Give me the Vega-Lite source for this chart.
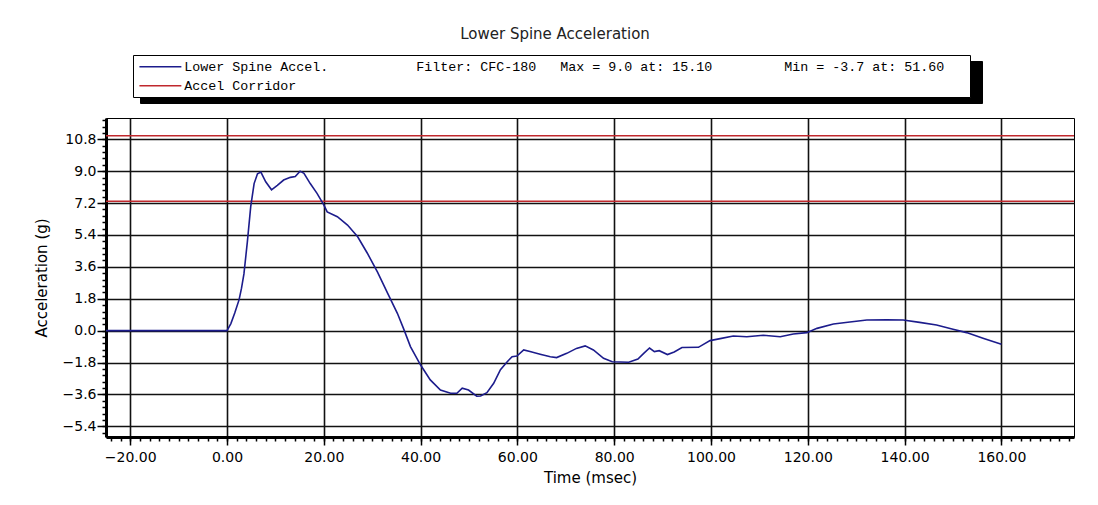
{
  "$schema": "https://vega.github.io/schema/vega-lite/v6.json",
  "autosize": {"type": "none"},
  "padding": {"left": 106, "top": 118, "right": 24, "bottom": 68},
  "width": 968,
  "height": 319,
  "background": "white",
  "config": {
    "view": {"stroke": "black", "strokeWidth": 1},
    "axis": {"labelFont": "DejaVu Sans", "titleFont": "DejaVu Sans", "labelColor": "black", "titleColor": "black", "titleFontWeight": "normal"}
  },
  "title": {
    "text": "Lower Spine Acceleration",
    "anchor": "middle",
    "frame": "group",
    "dx": -35,
    "offset": 13,
    "font": "DejaVu Sans",
    "fontSize": 15,
    "fontWeight": "normal",
    "color": "#222222"
  },
  "datasets": {
    "accel": [
      {"series": "Lower Spine Accel.", "t": -25, "v": 0},
      {"series": "Lower Spine Accel.", "t": 0, "v": 0},
      {"series": "Lower Spine Accel.", "t": 0.8, "v": 0.4},
      {"series": "Lower Spine Accel.", "t": 1.6, "v": 1.0},
      {"series": "Lower Spine Accel.", "t": 2.5, "v": 1.75},
      {"series": "Lower Spine Accel.", "t": 3.0, "v": 2.4},
      {"series": "Lower Spine Accel.", "t": 3.5, "v": 3.2},
      {"series": "Lower Spine Accel.", "t": 4.2, "v": 5.0},
      {"series": "Lower Spine Accel.", "t": 4.9, "v": 7.0},
      {"series": "Lower Spine Accel.", "t": 5.6, "v": 8.3},
      {"series": "Lower Spine Accel.", "t": 6.3, "v": 8.85},
      {"series": "Lower Spine Accel.", "t": 7.0, "v": 8.95},
      {"series": "Lower Spine Accel.", "t": 8.0, "v": 8.4},
      {"series": "Lower Spine Accel.", "t": 9.2, "v": 7.95},
      {"series": "Lower Spine Accel.", "t": 10.4, "v": 8.2},
      {"series": "Lower Spine Accel.", "t": 11.7, "v": 8.5},
      {"series": "Lower Spine Accel.", "t": 13.1, "v": 8.65},
      {"series": "Lower Spine Accel.", "t": 14.1, "v": 8.7},
      {"series": "Lower Spine Accel.", "t": 15.1, "v": 9.0},
      {"series": "Lower Spine Accel.", "t": 15.9, "v": 8.88},
      {"series": "Lower Spine Accel.", "t": 17.2, "v": 8.3},
      {"series": "Lower Spine Accel.", "t": 18.6, "v": 7.75},
      {"series": "Lower Spine Accel.", "t": 20.0, "v": 7.1},
      {"series": "Lower Spine Accel.", "t": 20.7, "v": 6.7},
      {"series": "Lower Spine Accel.", "t": 22.8, "v": 6.43},
      {"series": "Lower Spine Accel.", "t": 24.9, "v": 5.96},
      {"series": "Lower Spine Accel.", "t": 27.0, "v": 5.3},
      {"series": "Lower Spine Accel.", "t": 29.0, "v": 4.37},
      {"series": "Lower Spine Accel.", "t": 31.1, "v": 3.3},
      {"series": "Lower Spine Accel.", "t": 33.2, "v": 2.1},
      {"series": "Lower Spine Accel.", "t": 35.2, "v": 0.98},
      {"series": "Lower Spine Accel.", "t": 36.5, "v": 0.1},
      {"series": "Lower Spine Accel.", "t": 37.9, "v": -0.9},
      {"series": "Lower Spine Accel.", "t": 40.0, "v": -1.94},
      {"series": "Lower Spine Accel.", "t": 42.0, "v": -2.78},
      {"series": "Lower Spine Accel.", "t": 44.1, "v": -3.35},
      {"series": "Lower Spine Accel.", "t": 46.2, "v": -3.53},
      {"series": "Lower Spine Accel.", "t": 47.5, "v": -3.53},
      {"series": "Lower Spine Accel.", "t": 48.6, "v": -3.25},
      {"series": "Lower Spine Accel.", "t": 49.9, "v": -3.35},
      {"series": "Lower Spine Accel.", "t": 51.6, "v": -3.7},
      {"series": "Lower Spine Accel.", "t": 52.4, "v": -3.69},
      {"series": "Lower Spine Accel.", "t": 53.7, "v": -3.5},
      {"series": "Lower Spine Accel.", "t": 55.1, "v": -2.97},
      {"series": "Lower Spine Accel.", "t": 56.5, "v": -2.2},
      {"series": "Lower Spine Accel.", "t": 57.9, "v": -1.75},
      {"series": "Lower Spine Accel.", "t": 58.9, "v": -1.47},
      {"series": "Lower Spine Accel.", "t": 59.9, "v": -1.43},
      {"series": "Lower Spine Accel.", "t": 61.3, "v": -1.09},
      {"series": "Lower Spine Accel.", "t": 62.6, "v": -1.18},
      {"series": "Lower Spine Accel.", "t": 64.7, "v": -1.33},
      {"series": "Lower Spine Accel.", "t": 66.8, "v": -1.47},
      {"series": "Lower Spine Accel.", "t": 68.1, "v": -1.52},
      {"series": "Lower Spine Accel.", "t": 70.2, "v": -1.28},
      {"series": "Lower Spine Accel.", "t": 72.2, "v": -1.0},
      {"series": "Lower Spine Accel.", "t": 74.0, "v": -0.86},
      {"series": "Lower Spine Accel.", "t": 75.7, "v": -1.09},
      {"series": "Lower Spine Accel.", "t": 77.8, "v": -1.56},
      {"series": "Lower Spine Accel.", "t": 79.6, "v": -1.75},
      {"series": "Lower Spine Accel.", "t": 83.0, "v": -1.78},
      {"series": "Lower Spine Accel.", "t": 84.9, "v": -1.6},
      {"series": "Lower Spine Accel.", "t": 86.1, "v": -1.28},
      {"series": "Lower Spine Accel.", "t": 87.3, "v": -0.98},
      {"series": "Lower Spine Accel.", "t": 88.3, "v": -1.18},
      {"series": "Lower Spine Accel.", "t": 89.3, "v": -1.13},
      {"series": "Lower Spine Accel.", "t": 91.0, "v": -1.35},
      {"series": "Lower Spine Accel.", "t": 92.4, "v": -1.2},
      {"series": "Lower Spine Accel.", "t": 94.0, "v": -0.95},
      {"series": "Lower Spine Accel.", "t": 97.4, "v": -0.94},
      {"series": "Lower Spine Accel.", "t": 99.8, "v": -0.56},
      {"series": "Lower Spine Accel.", "t": 101.9, "v": -0.45},
      {"series": "Lower Spine Accel.", "t": 104.6, "v": -0.3},
      {"series": "Lower Spine Accel.", "t": 107.4, "v": -0.34},
      {"series": "Lower Spine Accel.", "t": 110.8, "v": -0.26},
      {"series": "Lower Spine Accel.", "t": 114.3, "v": -0.34},
      {"series": "Lower Spine Accel.", "t": 117.0, "v": -0.19},
      {"series": "Lower Spine Accel.", "t": 119.8, "v": -0.11},
      {"series": "Lower Spine Accel.", "t": 121.9, "v": 0.13},
      {"series": "Lower Spine Accel.", "t": 125.3, "v": 0.38},
      {"series": "Lower Spine Accel.", "t": 128.7, "v": 0.49},
      {"series": "Lower Spine Accel.", "t": 132.2, "v": 0.6},
      {"series": "Lower Spine Accel.", "t": 136.3, "v": 0.62},
      {"series": "Lower Spine Accel.", "t": 139.7, "v": 0.6},
      {"series": "Lower Spine Accel.", "t": 143.1, "v": 0.47},
      {"series": "Lower Spine Accel.", "t": 146.6, "v": 0.32},
      {"series": "Lower Spine Accel.", "t": 150.0, "v": 0.08},
      {"series": "Lower Spine Accel.", "t": 152.8, "v": -0.11},
      {"series": "Lower Spine Accel.", "t": 156.2, "v": -0.43},
      {"series": "Lower Spine Accel.", "t": 160.0, "v": -0.77}
    ],
    "corridor": [
      {"series": "Accel Corridor", "level": "upper", "t": -25, "v": 11.0},
      {"series": "Accel Corridor", "level": "upper", "t": 175, "v": 11.0},
      {"series": "Accel Corridor", "level": "lower", "t": -25, "v": 7.3},
      {"series": "Accel Corridor", "level": "lower", "t": 175, "v": 7.3}
    ]
  },
  "resolve": {"axis": {"x": "independent", "y": "independent"}},
  "layer": [
    {
      "data": {"name": "corridor"},
      "mark": {"type": "line", "strokeWidth": 1.6},
      "encoding": {
        "x": {
          "field": "t", "type": "quantitative",
          "scale": {"domain": [-25, 175], "nice": false, "zero": false},
          "axis": {
            "orient": "bottom", "title": null, "labels": false, "grid": false, "domain": false,
            "tickColor": "black", "tickWidth": 1.5, "tickSize": 4,
            "values": [-24,-22,-20,-18,-16,-14,-12,-10,-8,-6,-4,-2,0,2,4,6,8,10,12,14,16,18,20,22,24,26,28,30,32,34,36,38,40,42,44,46,48,50,52,54,56,58,60,62,64,66,68,70,72,74,76,78,80,82,84,86,88,90,92,94,96,98,100,102,104,106,108,110,112,114,116,118,120,122,124,126,128,130,132,134,136,138,140,142,144,146,148,150,152,154,156,158,160,162,164,166,168,170,172,174]
          }
        },
        "y": {
          "field": "v", "type": "quantitative",
          "scale": {"domain": [-6, 12], "nice": false, "zero": false},
          "axis": {
            "orient": "left", "title": null, "labels": false, "grid": false, "domain": false,
            "tickColor": "black", "tickWidth": 1.5, "tickSize": 4,
            "values": [-5.76,-5.4,-5.04,-4.68,-4.32,-3.96,-3.6,-3.24,-2.88,-2.52,-2.16,-1.8,-1.44,-1.08,-0.72,-0.36,0,0.36,0.72,1.08,1.44,1.8,2.16,2.52,2.88,3.24,3.6,3.96,4.32,4.68,5.04,5.4,5.76,6.12,6.48,6.84,7.2,7.56,7.92,8.28,8.64,9.0,9.36,9.72,10.08,10.44,10.8,11.16,11.52,11.88]
          }
        },
        "detail": {"field": "level"},
        "color": {
          "field": "series", "type": "nominal",
          "scale": {"domain": ["Lower Spine Accel.", "Accel Corridor"], "range": ["#1c1c8c", "#c0282d"]},
          "legend": {
            "orient": "none", "legendX": 27, "legendY": -63, "title": null, "zindex": 2,
            "symbolType": "M-1,0H7", "symbolSize": 110, "symbolStrokeWidth": 1.5,
            "labelFont": "Liberation Mono", "labelFontSize": 13.33, "labelColor": "black", "labelLimit": 1500, "labelOffset": 33,
            "padding": 5, "rowPadding": 5, "fillColor": "white", "strokeColor": "black",
            "labelExpr": "datum.label == 'Lower Spine Accel.' ? 'Lower Spine Accel.\u00a0\u00a0\u00a0\u00a0\u00a0\u00a0\u00a0\u00a0\u00a0\u00a0\u00a0Filter: CFC-180\u00a0\u00a0\u00a0Max = 9.0 at: 15.10\u00a0\u00a0\u00a0\u00a0\u00a0\u00a0\u00a0\u00a0\u00a0Min = -3.7 at: 51.60\u2800\u2800' : datum.label"
          }
        },
        "opacity": {
          "field": "series", "type": "ordinal",
          "scale": {"domain": ["Accel Corridor", "Lower Spine Accel."], "range": [1, 1]},
          "legend": {
            "orient": "none", "legendX": 34, "legendY": -57, "title": null, "zindex": 1,
            "symbolType": "M-1,0H7", "symbolSize": 110, "symbolStrokeWidth": 1.5, "symbolStrokeColor": "black", "symbolFillColor": "black",
            "labelFont": "Liberation Mono", "labelFontSize": 13.33, "labelColor": "black", "labelLimit": 1500, "labelOffset": 818,
            "padding": 5, "rowPadding": 5, "fillColor": "black", "strokeColor": "black",
            "labelExpr": "''"
          }
        }
      }
    },
    {
      "data": {"name": "accel"},
      "mark": {"type": "line", "strokeWidth": 1.6},
      "encoding": {
        "x": {
          "field": "t", "type": "quantitative",
          "scale": {"domain": [-25, 175], "nice": false, "zero": false},
          "axis": {
            "orient": "bottom", "title": "Time (msec)", "titleFontSize": 15, "titlePadding": 6,
            "values": [-20, 0, 20, 40, 60, 80, 100, 120, 140, 160], "format": ".2f",
            "grid": true, "gridColor": "#111111", "gridWidth": 1.6, "gridOpacity": 1,
            "domainColor": "black", "domainWidth": 3,
            "tickColor": "black", "tickWidth": 1.5, "tickSize": 8,
            "labelFontSize": 14, "labelPadding": 5
          }
        },
        "y": {
          "field": "v", "type": "quantitative",
          "scale": {"domain": [-6, 12], "nice": false, "zero": false},
          "axis": {
            "orient": "left", "title": "Acceleration (g)", "titleFontSize": 15, "titlePadding": 13,
            "values": [-5.4, -3.6, -1.8, 0, 1.8, 3.6, 5.4, 7.2, 9.0, 10.8], "format": ".1f",
            "grid": true, "gridColor": "#111111", "gridWidth": 1.6, "gridOpacity": 1,
            "domainColor": "black", "domainWidth": 3,
            "tickColor": "black", "tickWidth": 1.5, "tickSize": 9,
            "labelFontSize": 14, "labelPadding": 1
          }
        },
        "color": {"field": "series", "type": "nominal", "scale": {"domain": ["Lower Spine Accel.", "Accel Corridor"], "range": ["#1c1c8c", "#c0282d"]}},
        "opacity": {"field": "series", "type": "ordinal", "scale": {"domain": ["Accel Corridor", "Lower Spine Accel."], "range": [1, 1]}}
      }
    }
  ]
}
